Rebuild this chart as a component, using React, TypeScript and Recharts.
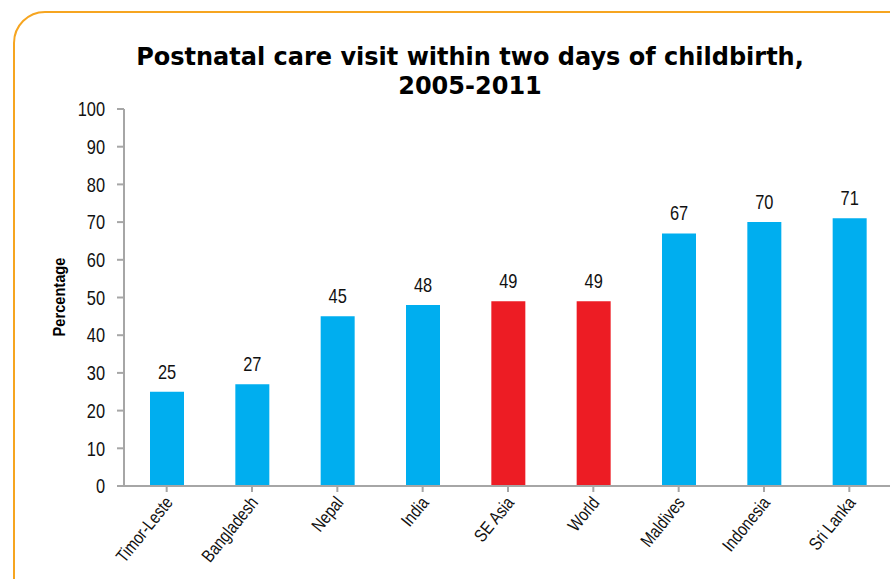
import { BarChart, Bar, XAxis, YAxis, Cell, LabelList } from "recharts";

const countries = [
  "Timor-Leste",
  "Bangladesh",
  "Nepal",
  "India",
  "SE Asia",
  "World",
  "Maldives",
  "Indonesia",
  "Sri Lanka",
];
const visitPct = [25, 27, 45, 48, 49, 49, 67, 70, 71];
const highlighted = ["SE Asia", "World"];
const yTicks = [0, 10, 20, 30, 40, 50, 60, 70, 80, 90, 100];

const BLUE = "#00AEEF";
const RED = "#ED1C24";
const AXIS = "#A6A6A6";
// no Arial Narrow here, so squeeze Liberation Sans sideways
const NARROW = '"Liberation Sans", Arial, sans-serif';
const SQUEEZE = 0.82;

const data = countries.map((name, i) => ({ name, value: visitPct[i] }));

function CountryTick(props: any) {
  const { x, y, payload } = props;
  return (
    <g transform={`translate(${x + 7},${y + 9}) rotate(-51) scale(${SQUEEZE},1)`}>
      <text textAnchor="end" fontSize={18} fontFamily={NARROW} fill="#111">
        {payload.value}
      </text>
    </g>
  );
}

function PctTick(props: any) {
  const { x, y, payload } = props;
  return (
    <g transform={`translate(${x},${y}) scale(${SQUEEZE},1)`}>
      <text
        textAnchor="end"
        dy="0.36em"
        fontSize={20}
        fontFamily={NARROW}
        fill="#111"
      >
        {payload.value}
      </text>
    </g>
  );
}

function ValueLabel(props: any) {
  const { x, y, width, value } = props;
  return (
    <g transform={`translate(${x + width / 2},${y - 13}) scale(${SQUEEZE},1)`}>
      <text textAnchor="middle" fontSize={20} fontFamily={NARROW} fill="#111">
        {value}
      </text>
    </g>
  );
}

function AxisTitle(props: any) {
  const vb = props.viewBox || { x: 0, y: 109, height: 377 };
  const cy = vb.y + vb.height / 2;
  return (
    <g transform={`translate(65,${cy - 0.5}) rotate(-90) scale(0.86,1)`}>
      <text
        textAnchor="middle"
        fontSize={17}
        fontWeight="bold"
        fontFamily={NARROW}
        fill="#000"
      >
        Percentage
      </text>
    </g>
  );
}

export default function App() {
  return (
    <div
      style={{
        position: "fixed",
        left: 0,
        top: 0,
        width: 890,
        height: 579,
        overflow: "hidden",
        background: "#fff",
      }}
    >
      <div
        style={{
          position: "absolute",
          left: 13,
          top: 11,
          width: 920,
          height: 620,
          border: "2px solid #F6A520",
          borderRadius: 32,
        }}
      />
      <div
        style={{
          position: "absolute",
          left: 70,
          width: 800,
          top: 43,
          textAlign: "center",
          fontFamily: '"DejaVu Sans", Verdana, sans-serif',
          fontWeight: "bold",
          fontSize: 24,
          lineHeight: "29px",
          color: "#000",
        }}
      >
        Postnatal care visit within two days of childbirth,
        <br />
        2005-2011
      </div>
      <div style={{ position: "absolute", left: 0, top: 0 }}>
        <BarChart
          width={900}
          height={579}
          data={data}
          margin={{ top: 109, right: 8, bottom: 0, left: 0 }}
        >
          <XAxis
            dataKey="name"
            interval={0}
            height={93}
            tick={<CountryTick />}
            tickSize={6}
            axisLine={{ stroke: AXIS, strokeWidth: 2 }}
            tickLine={{ stroke: AXIS, strokeWidth: 2 }}
            ticks={countries}
          />
          <YAxis
            width={124}
            domain={[0, 100]}
            ticks={yTicks}
            interval={0}
            tickSize={7}
            tickMargin={12}
            axisLine={{ stroke: AXIS, strokeWidth: 2 }}
            tickLine={{ stroke: AXIS, strokeWidth: 2 }}
            tick={<PctTick />}
            label={<AxisTitle />}
          />
          <Bar dataKey="value" barSize={34} isAnimationActive={false}>
            {data.map((d) => (
              <Cell
                key={d.name}
                fill={highlighted.includes(d.name) ? RED : BLUE}
              />
            ))}
            <LabelList dataKey="value" content={<ValueLabel />} />
          </Bar>
        </BarChart>
      </div>
    </div>
  );
}
